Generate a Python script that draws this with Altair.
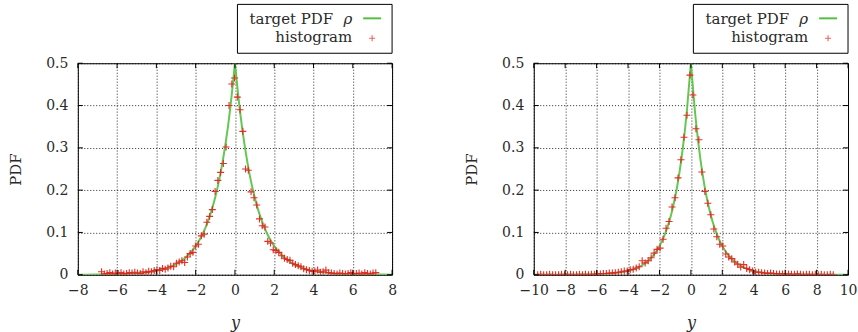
import altair as alt
import pandas as pd

# ---- left histogram: bin centres and normalised counts ----
left_bin_y = [
    -6.79, -6.65, -6.51, -6.37, -6.23, -6.09, -5.94, -5.80, -5.66, -5.52,
    -5.38, -5.24, -5.10, -4.96, -4.82, -4.68, -4.53, -4.39, -4.25, -4.11,
    -3.97, -3.83, -3.69, -3.55, -3.41, -3.27, -3.12, -2.98, -2.84, -2.70,
    -2.56, -2.42, -2.28, -2.14, -2.00, -1.86, -1.71, -1.57, -1.43, -1.29,
    -1.15, -1.01, -0.87, -0.73, -0.59, -0.45, -0.30, -0.16, -0.02, 0.12,
    0.26, 0.40, 0.54, 0.68, 0.82, 0.97, 1.11, 1.25, 1.39, 1.53,
    1.67, 1.81, 1.95, 2.09, 2.23, 2.38, 2.52, 2.66, 2.80, 2.94,
    3.08, 3.22, 3.36, 3.50, 3.64, 3.79, 3.93, 4.07, 4.21, 4.35,
    4.49, 4.63, 4.77, 4.91, 5.05, 5.20, 5.34, 5.48, 5.62, 5.76,
    5.90, 6.04, 6.18, 6.32, 6.46, 6.61, 6.75, 6.89, 7.03, 7.17,
]
left_hist = [
    0.007, 0.002, 0.003, 0.005, 0.002, 0.004, 0.003, 0.005, 0.002, 0.003,
    0.005, 0.004, 0.006, 0.004, 0.003, 0.007, 0.005, 0.008, 0.007, 0.010,
    0.012, 0.010, 0.015, 0.013, 0.016, 0.020, 0.019, 0.027, 0.030, 0.033,
    0.029, 0.042, 0.050, 0.053, 0.068, 0.072, 0.092, 0.096, 0.124, 0.138,
    0.154, 0.197, 0.223, 0.242, 0.263, 0.302, 0.400, 0.451, 0.465, 0.420,
    0.390, 0.339, 0.250, 0.247, 0.196, 0.182, 0.165, 0.132, 0.116, 0.113,
    0.079, 0.075, 0.059, 0.057, 0.053, 0.045, 0.039, 0.036, 0.034, 0.027,
    0.024, 0.021, 0.019, 0.014, 0.012, 0.010, 0.008, 0.009, 0.011, 0.006,
    0.007, 0.011, 0.005, 0.004, 0.003, 0.002, 0.004, 0.003, 0.002, 0.003,
    0.005, 0.002, 0.003, 0.004, 0.002, 0.005, 0.003, 0.002, 0.004, 0.005,
]

# ---- right histogram: bin centres and normalised counts ----
right_bin_y = [
    -9.75, -9.56, -9.37, -9.18, -8.99, -8.80, -8.61, -8.42, -8.23, -8.04,
    -7.85, -7.66, -7.47, -7.28, -7.09, -6.90, -6.71, -6.52, -6.33, -6.14,
    -5.95, -5.76, -5.57, -5.38, -5.19, -5.00, -4.81, -4.62, -4.43, -4.24,
    -4.05, -3.86, -3.67, -3.48, -3.29, -3.10, -2.91, -2.72, -2.53, -2.34,
    -2.15, -1.96, -1.77, -1.58, -1.39, -1.20, -1.01, -0.82, -0.63, -0.44,
    -0.25, -0.06, 0.13, 0.32, 0.51, 0.70, 0.89, 1.08, 1.27, 1.46,
    1.65, 1.84, 2.03, 2.22, 2.41, 2.60, 2.79, 2.98, 3.17, 3.36,
    3.55, 3.74, 3.93, 4.12, 4.31, 4.50, 4.69, 4.88, 5.07, 5.26,
    5.45, 5.64, 5.83, 6.02, 6.21, 6.40, 6.59, 6.78, 6.97, 7.16,
    7.35, 7.54, 7.73, 7.92, 8.11, 8.30, 8.49, 8.68, 8.87, 9.06,
]
right_hist = [
    0.000, 0.001, 0.000, 0.000, 0.001, 0.000, 0.000, 0.000, 0.001, 0.000,
    0.000, 0.001, 0.000, 0.000, 0.001, 0.000, 0.001, 0.000, 0.001, 0.001,
    0.002, 0.002, 0.003, 0.003, 0.004, 0.004, 0.005, 0.006, 0.007, 0.009,
    0.009, 0.012, 0.013, 0.016, 0.019, 0.033, 0.028, 0.033, 0.040, 0.051,
    0.060, 0.063, 0.084, 0.110, 0.126, 0.160, 0.182, 0.229, 0.272, 0.325,
    0.377, 0.472, 0.425, 0.345, 0.319, 0.243, 0.197, 0.169, 0.142, 0.108,
    0.090, 0.072, 0.068, 0.049, 0.042, 0.038, 0.030, 0.025, 0.018, 0.024,
    0.015, 0.012, 0.009, 0.006, 0.006, 0.005, 0.004, 0.003, 0.004, 0.003,
    0.002, 0.002, 0.002, 0.001, 0.002, 0.001, 0.001, 0.002, 0.001, 0.000,
    0.001, 0.001, 0.000, 0.001, 0.000, 0.001, 0.000, 0.000, 0.001, 0.000,
]

# ---- target density rho, sampled along each side of the cusp ----
curve_y = [
    -10, -8, -7, -6, -5, -4, -3.5, -3, -2.5, -2, -1.75, -1.5, -1.25, -1,
    -0.75, -0.5, -0.25, 0,
    0, 0.25, 0.5, 0.75, 1, 1.25, 1.5, 1.75, 2, 2.5, 3, 3.5, 4, 5, 6, 7, 8, 10,
]
curve_pdf = [
    0.00002, 0.00017, 0.00046, 0.00124, 0.00337, 0.00916, 0.0151, 0.0249,
    0.0410, 0.0677, 0.0869, 0.1116, 0.1433, 0.1839, 0.2362, 0.3033, 0.3894, 0.5,
    0.5, 0.3894, 0.3033, 0.2362, 0.1839, 0.1433, 0.1116, 0.0869, 0.0677,
    0.0410, 0.0249, 0.0151, 0.00916, 0.00337, 0.00124, 0.00046, 0.00017, 0.00002,
]
curve_side = ["left"] * 18 + ["right"] * 18

left_ticks = [-8, -6, -4, -2, 0, 2, 4, 6, 8]
right_ticks = [-10, -8, -6, -4, -2, 0, 2, 4, 6, 8, 10]
pdf_ticks = [0, 0.1, 0.2, 0.3, 0.4, 0.5]

W, H = 315, 212
SERIF = "DejaVu Serif"
TEXT = "#2a2a2a"
RED = "#e3261f"
GREEN = "#55c03f"
PLUS = "M-1,0L1,0M0,-1L0,1"


def panel(bin_y, hist, domain, ticks):
    hist_df = pd.DataFrame({"y": bin_y, "pdf": hist})
    curve_df = pd.DataFrame({"y": curve_y, "pdf": curve_pdf, "side": curve_side})
    xtick_df = pd.DataFrame({"y": ticks})
    ytick_df = pd.DataFrame({"pdf": pdf_ticks})
    one = pd.DataFrame({"k": [0]})

    x_enc = alt.X(
        "y:Q",
        scale=alt.Scale(domain=domain, nice=False, zero=False),
        axis=alt.Axis(
            values=ticks, format="d", grid=True, gridColor="#000",
            gridDash=[1, 2], gridOpacity=0.85, gridWidth=1,
            ticks=False, domain=False, labelFlush=False, labelOverlap=False,
            labelFont=SERIF, labelFontSize=14, labelColor=TEXT, labelPadding=9,
            title="y", titleFont=SERIF, titleFontSize=16, titleFontStyle="italic",
            titleFontWeight="normal", titleColor=TEXT, titleX=W / 2, titleY=48,
            titleBaseline="middle", titleAlign="center",
        ),
    )
    y_enc = alt.Y(
        "pdf:Q",
        scale=alt.Scale(domain=[0, 0.5], nice=False, zero=False),
        axis=alt.Axis(
            values=pdf_ticks, format=".1~f", grid=True, gridColor="#000",
            gridDash=[1, 2], gridOpacity=0.85, gridWidth=1,
            ticks=False, domain=False, labelFlush=False, labelOverlap=False,
            labelFont=SERIF, labelFontSize=14, labelColor=TEXT, labelPadding=10,
            title="PDF", titleFont=SERIF, titleFontSize=15, titleFontWeight="normal",
            titleColor=TEXT, titleX=-62, titleY=H / 2, titleAngle=270,
            titleBaseline="middle", titleAlign="center",
        ),
    )

    curve = alt.Chart(curve_df).mark_line(
        color=GREEN, strokeWidth=2, interpolate="monotone", clip=True, opacity=0.9
    ).encode(x=x_enc, y=y_enc, detail="side:N")

    points = alt.Chart(hist_df).mark_point(
        shape=PLUS, size=49, filled=False, strokeWidth=1.1, color=RED, opacity=0.95,
        clip=True,
    ).encode(x=x_enc, y=y_enc)

    # inward tick marks on all four borders
    xt_bottom = alt.Chart(xtick_df).mark_rule(color="#000", strokeWidth=1).encode(
        x=x_enc, y=alt.value(H), y2=alt.value(H - 5))
    xt_top = alt.Chart(xtick_df).mark_rule(color="#000", strokeWidth=1).encode(
        x=x_enc, y=alt.value(0), y2=alt.value(5))
    yt_left = alt.Chart(ytick_df).mark_rule(color="#000", strokeWidth=1).encode(
        y=y_enc, x=alt.value(0), x2=alt.value(5))
    yt_right = alt.Chart(ytick_df).mark_rule(color="#000", strokeWidth=1).encode(
        y=y_enc, x=alt.value(W), x2=alt.value(W - 5))

    # key box above the plot
    box = alt.Chart(one).mark_rect(fill="white", stroke="#000", strokeWidth=1).encode(
        x=alt.value(160), x2=alt.value(W), y=alt.value(-59), y2=alt.value(-10))
    lab1 = alt.Chart(one).mark_text(
        align="right", baseline="middle", font=SERIF, fontSize=15, color=TEXT
    ).encode(x=alt.value(256), y=alt.value(-44), text=alt.value("target PDF"))
    lab_rho = alt.Chart(one).mark_text(
        align="right", baseline="middle", font=SERIF, fontSize=15, fontStyle="italic",
        color=TEXT,
    ).encode(x=alt.value(275), y=alt.value(-44), text=alt.value("ρ"))
    lab2 = alt.Chart(one).mark_text(
        align="right", baseline="middle", font=SERIF, fontSize=15, color=TEXT
    ).encode(x=alt.value(275), y=alt.value(-26), text=alt.value("histogram"))
    key_line = alt.Chart(one).mark_rule(color=GREEN, strokeWidth=2).encode(
        x=alt.value(286), x2=alt.value(304), y=alt.value(-45))
    key_plus = alt.Chart(one).mark_point(
        shape=PLUS, size=36, filled=False, strokeWidth=1.1, color=RED
    ).encode(x=alt.value(295), y=alt.value(-25))

    return alt.layer(
        curve, points, xt_bottom, xt_top, yt_left, yt_right,
        box, lab1, lab_rho, lab2, key_line, key_plus,
    ).properties(width=W, height=H)


chart = alt.hconcat(
    panel(left_bin_y, left_hist, [-8, 8], left_ticks),
    panel(right_bin_y, right_hist, [-10, 10], right_ticks),
    spacing=142,
    bounds="flush",
).configure_view(
    stroke="#000", strokeWidth=1
).properties(
    padding={"left": 8, "top": 3, "right": 0, "bottom": 0},
    background="white",
)

chart.save("out.html", embed_options={"renderer": "svg", "actions": False})
